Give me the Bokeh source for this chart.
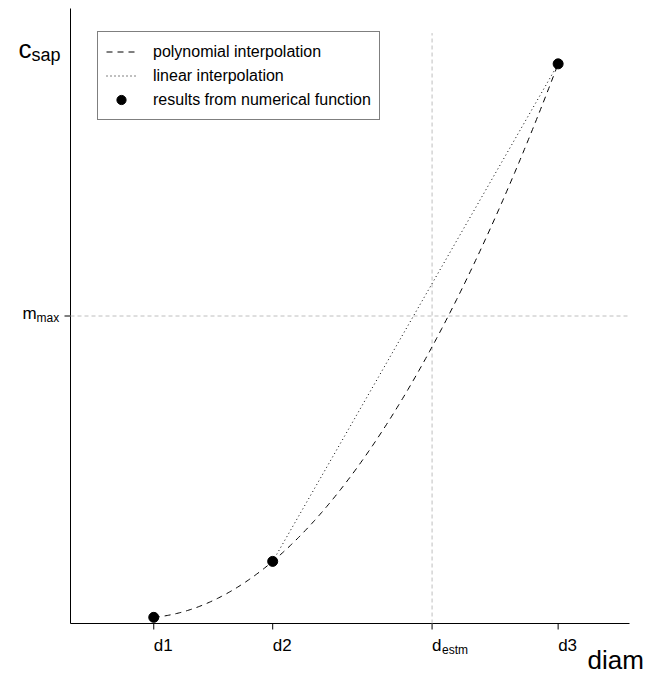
import numpy as np
from bokeh.plotting import figure
from bokeh.models import Label, Legend, LegendItem, Range1d
from bokeh.embed import file_html
from bokeh.resources import INLINE

# ---- data ----
diam_pts = [10.0, 20.0, 44.0]          # d1, d2, d3
csap_pts = [1.0, 10.1, 91.0]           # numerical results
d_estm = 33.4
m_max = 50.0
vline_top = 96.0
x_lim = [3.0, 50.0]
y_lim = [0.0, 100.0]
x_tick_labels = ["d1", "d2", "d3"]
legend_labels = ["polynomial interpolation", "linear interpolation",
                 "results from numerical function"]

FONT = "Liberation Sans"
W, H = 651, 676
# frame of the "axes" region in page pixels
FL, FR, FT, FB = 70, 629, 8, 623
sx = (FR - FL) / (x_lim[1] - x_lim[0])
sy = (FB - FT) / (y_lim[1] - y_lim[0])
xr = Range1d(x_lim[0] - FL / sx, x_lim[0] + (W - FL) / sx)
yr = Range1d(y_lim[0] - (H - FB) / sy, y_lim[1] + FT / sy)

# polynomial (quadratic) interpolation through the three points
coefs = np.polyfit(diam_pts, csap_pts, 2)
xs = np.linspace(diam_pts[0], diam_pts[2], 300)
ys = np.polyval(coefs, xs)

p = figure(width=W, height=H, x_range=xr, y_range=yr, output_backend="svg",
           toolbar_location=None, min_border=0,
           x_axis_location=None, y_axis_location=None)
p.outline_line_color = None
p.grid.visible = False
p.background_fill_color = "white"
p.border_fill_color = "white"

# axes (left and bottom lines with outward ticks)
tick_len_y = 6 / sy
tick_len_x = 6 / sx
p.segment(x0=[x_lim[0]], y0=[y_lim[0]], x1=[x_lim[1]], y1=[y_lim[0]],
          line_color="black", line_width=1)
p.segment(x0=[x_lim[0]], y0=[y_lim[0]], x1=[x_lim[0]], y1=[y_lim[1]],
          line_color="black", line_width=1)
xticks = diam_pts + [d_estm]
p.segment(x0=xticks, y0=[y_lim[0]] * 4, x1=xticks, y1=[y_lim[0] - tick_len_y] * 4,
          line_color="black", line_width=1)
p.segment(x0=[x_lim[0]], y0=[m_max], x1=[x_lim[0] - tick_len_x], y1=[m_max],
          line_color="black", line_width=1)

# reference lines
p.segment(x0=[x_lim[0]], y0=[m_max], x1=[x_lim[1]], y1=[m_max],
          line_color="#bebebe", line_dash="4 3", line_width=1)
p.segment(x0=[d_estm], y0=[y_lim[0]], x1=[d_estm], y1=[vline_top],
          line_color="#bebebe", line_dash="4 3", line_width=1)

# interpolations and points
r_poly = p.line(xs, ys, line_color="black", line_dash="6 5", line_width=1)
r_lin = p.line(diam_pts[1:], csap_pts[1:], line_color="black", line_dash="1 3",
               line_width=1)
r_pts = p.scatter(diam_pts, csap_pts, size=10, color="black")

legend = Legend(items=[LegendItem(label=legend_labels[0], renderers=[r_poly]),
                       LegendItem(label=legend_labels[1], renderers=[r_lin]),
                       LegendItem(label=legend_labels[2], renderers=[r_pts])],
                location=(97, H - 120), border_line_color="black",
                border_line_width=1, background_fill_alpha=1, padding=8,
                spacing=1, label_height=23, glyph_height=23, glyph_width=30,
                label_standoff=17, margin=0, label_text_color="black",
                label_text_font_size="16px", label_text_font=FONT)
p.add_layout(legend)


def lab(x, y, text, size, xo=0, yo=0):
    p.add_layout(Label(x=x, y=y, text=text, x_offset=xo, y_offset=yo,
                       text_font_size=size, text_font=FONT, text_color="black",
                       text_baseline="alphabetic", text_align="left"))


# tick labels
for xv, txt in zip(diam_pts, x_tick_labels):
    lab(xv, y_lim[0], txt, "17px", 0, -22)
lab(d_estm, y_lim[0], "d", "17px", 0, -22)
lab(d_estm, y_lim[0], "estm", "12px", 10, -26)
lab(x_lim[0], m_max, "m", "17px", -48, 3)
lab(x_lim[0], m_max, "max", "12px", -34, -2)

# axis titles
lab(x_lim[0], y_lim[1], "c", "26px", -52, -40)
lab(x_lim[0], y_lim[1], "sap", "18px", -39, -46)
lab(x_lim[1], y_lim[0], "diam", "26px", -42, -36)

open("out.html", "w").write(file_html(p, INLINE))
